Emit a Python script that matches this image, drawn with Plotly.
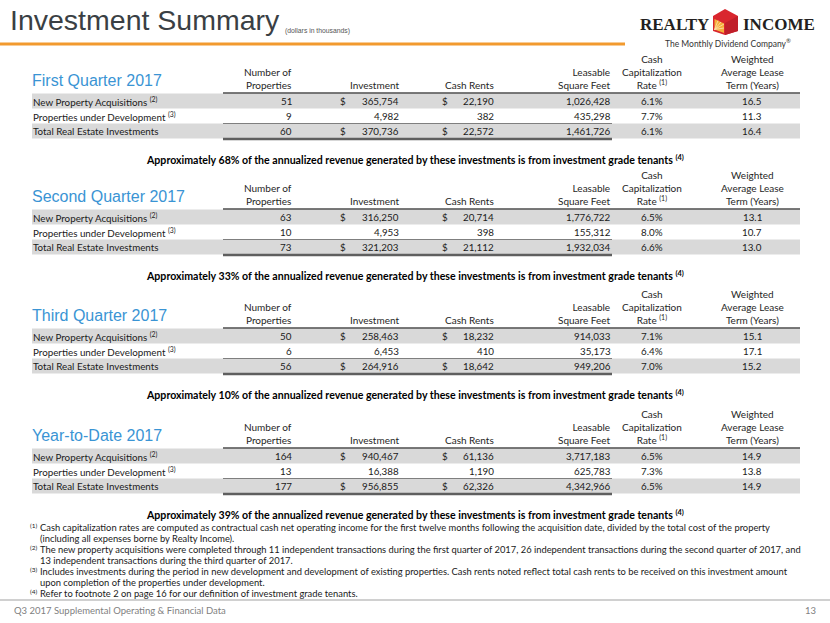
import plotly.graph_objects as go

# # Investment summary data (dollars in thousands)
sections = ['First Quarter 2017', 'Second Quarter 2017', 'Third Quarter 2017', 'Year-to-Date 2017']
row_labels = ['New Property Acquisitions', 'Properties under Development', 'Total Real Estate Investments']
row_notes = ['(2)', '(3)', '']

num_properties = [[51, 9, 60], [63, 10, 73], [50, 6, 56], [164, 13, 177]]
investment = [[365754, 4982, 370736], [316250, 4953, 321203], [258463, 6453, 264916], [940467, 16388, 956855]]
cash_rents = [[22190, 382, 22572], [20714, 398, 21112], [18232, 410, 18642], [61136, 1190, 62326]]
square_feet = [[1026428, 435298, 1461726], [1776722, 155312, 1932034], [914033, 35173, 949206], [3717183, 625783, 4342966]]
cap_rate = [[6.1, 7.7, 6.1], [6.5, 8.0, 6.6], [7.1, 6.4, 7.0], [6.5, 7.3, 6.5]]
lease_term = [[16.5, 11.3, 16.4], [13.1, 10.7, 13.0], [15.1, 17.1, 15.2], [14.9, 13.8, 14.9]]
inv_grade_pct = [68, 33, 10, 39]

headers = ['Number of<br>Properties', 'Investment', 'Cash Rents', 'Leasable<br>Square Feet',
           'Cash<br>Capitalization<br>Rate <sup>(1)</sup>', 'Weighted<br>Average Lease<br>Term (Years)']

footnotes = [
    ('(1)', ['Cash capitalization rates are computed as contractual cash net operating income for the first twelve months following the acquisition date, divided by the total cost of the property',
             '(including all expenses borne by Realty Income).']),
    ('(2)', ['The new property acquisitions were completed through 11 independent transactions during the first quarter of 2017, 26 independent transactions during the second quarter of 2017, and',
             '13 independent transactions during the third quarter of 2017.']),
    ('(3)', ['Includes investments during the period in new development and development of existing properties. Cash rents noted reflect total cash rents to be received on this investment amount',
             'upon completion of the properties under development.']),
    ('(4)', ['Refer to footnote 2 on page 16 for our definition of investment grade tenants.']),
]

# # Fonts and colours
BODY = 'Lato, Open Sans, sans-serif'
ARIAL = 'Liberation Sans, Arial, sans-serif'
BLUE = '#3A94D4'
GRAY_ROW = '#D9D9D9'

fig = go.Figure()
fig.add_trace(go.Scatter(x=[0, 830], y=[0, 623], mode='markers', marker=dict(opacity=0), hoverinfo='skip'))
fig.update_layout(width=830, height=623, margin=dict(l=0, r=0, t=0, b=0),
                  paper_bgcolor='white', plot_bgcolor='white', showlegend=False,
                  xaxis=dict(range=[0, 830], visible=False, fixedrange=True),
                  yaxis=dict(range=[623, 0], visible=False, fixedrange=True))


def text(x, y, s, size=9.8, color='#1a1a1a', family=BODY, xanchor='left', yanchor='middle', align='left', weight='normal'):
    fig.add_annotation(x=x, y=y, text=s, showarrow=False, xanchor=xanchor, yanchor=yanchor,
                       align=align, font=dict(family=family, size=size, color=color, weight=weight), borderpad=0)


def line(x0, x1, y, color='#595959', width=1):
    fig.add_shape(type='line', x0=x0, x1=x1, y0=y, y1=y, line=dict(color=color, width=width), layer='above')


# # Slide header
text(9, 20, 'Investment Summary', size=28.5, color='#3a3f44', family=ARIAL)
text(284, 31, '(dollars in thousands)', size=6.8, color='#555555', family=ARIAL)
line(0, 625, 44, color='#F29A2E', width=3)

# Logo
text(710, 24, 'REALTY', size=17, color='#231f20', family='Liberation Serif, serif', xanchor='right', weight='bold')
text(742, 24, 'INCOME', size=17, color='#231f20', family='Liberation Serif, serif', weight='bold')
fig.add_shape(type='path', path='M 713 16 L 725 9 L 738 16 L 738 31 L 725 35 L 713 31 Z',
              fillcolor='#D9262E', line=dict(width=0))
fig.add_shape(type='path', path='M 725 23 L 738 16 L 738 31 L 725 35 Z',
              fillcolor='#C01F2A', line=dict(width=0))
fig.add_shape(type='path', path='M 714.5 19 L 724 23.5 L 724 33 L 714.5 29.5 Z',
              fillcolor='#F6AE3A', line=dict(width=0))
for ex, ey in [(724, 24), (721, 22), (724, 28), (718, 20.5)]:
    fig.add_shape(type='line', x0=714.5, y0=29.5, x1=ex, y1=ey, line=dict(color='#FDE3B0', width=0.8))
text(728, 43, 'The Monthly Dividend Company<sup>®</sup>', size=8.5, color='#333333', family=BODY, xanchor='center')

# # Tables
offsets = [0, 116, 235, 355]
col_x = [293, 400, 495, 612, 652, 752]
col_anchor = ['right', 'right', 'right', 'right', 'center', 'center']

for k, sec in enumerate(sections):
    t = offsets[k]
    row_y = [101 + t, 116 + t, 131 + t]

    # shaded rows
    for r in (0, 2):
        fig.add_shape(type='rect', x0=32, x1=800, y0=row_y[r] - 7.5, y1=row_y[r] + 7.5,
                      fillcolor=GRAY_ROW, line=dict(width=0), layer='below')
    line(223, 800, 93 + t, color='#4d4d4d', width=1.5)
    line(223, 612, 123.5 + t, color='#7f7f7f', width=1)
    line(223, 612, 139 + t, color='#5f5f5f', width=2.5)

    # titles and column headers
    text(31, 80 + t, sec, size=16, color=BLUE, family=ARIAL)
    for h, cx, anc in zip(headers, col_x, col_anchor):
        text(cx, 92 + t, h, size=10, color='#262626', xanchor=anc, yanchor='bottom', align=anc)

    # rows
    for r in range(3):
        y = row_y[r]
        lbl = row_labels[r]
        if row_notes[r]:
            lbl += ' <sup>' + row_notes[r] + '</sup>'
        text(32, y, lbl)
        text(293, y, str(num_properties[k][r]), xanchor='right')
        if r != 1:
            text(343, y, '$', xanchor='center')
            text(445, y, '$', xanchor='center')
        text(400, y, f'{investment[k][r]:,}', xanchor='right')
        text(495, y, f'{cash_rents[k][r]:,}', xanchor='right')
        text(612, y, f'{square_feet[k][r]:,}', xanchor='right')
        text(652, y, f'{cap_rate[k][r]:.1f}%', xanchor='center')
        text(752, y, f'{lease_term[k][r]:.1f}', xanchor='center')

    text(415, 159 + t, f'Approximately {inv_grade_pct[k]}% of the annualized revenue generated by these '
                       f'investments is from investment grade tenants <sup>(4)</sup>',
         size=10.6, color='#000000', xanchor='center', weight='bold')

# # Footnotes
fy = 527
for mark, lines in footnotes:
    text(29, fy - 2, mark, size=6.5, color='#1a1a1a')
    for ln in lines:
        text(39, fy, ln, size=9.35, color='#1a1a1a')
        fy += 11

line(0, 830, 600, color='#d0d0d0', width=2)
text(13, 610, 'Q3 2017 Supplemental Operating & Financial Data', size=9.5, color='#7f7f7f')
text(817, 610, '13', size=9.5, color='#7f7f7f', xanchor='right')

fig.write_html('out.html', config={'displayModeBar': False},
               post_script="document.body.style.margin='0px';")
